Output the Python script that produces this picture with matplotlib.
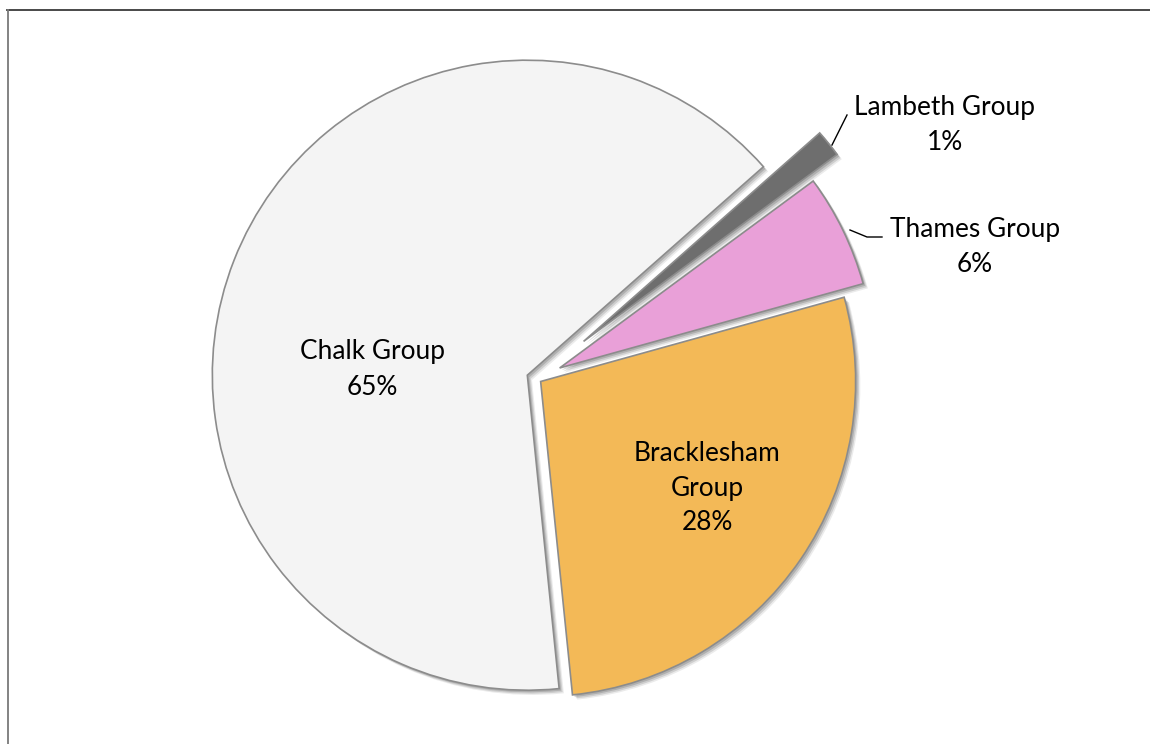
import matplotlib
matplotlib.use('Agg')
import matplotlib.pyplot as plt
from matplotlib import patheffects as pe
from matplotlib.lines import Line2D

# ---- data ----
groups = ['Bracklesham Group', 'Thames Group', 'Lambeth Group', 'Chalk Group']
shares = [27.7, 5.8, 1.4, 65.1]          # percent (labels show rounded values)
colors = ['#f3b957', '#e9a0d8', '#6e6e6e', '#f4f4f4']
explode = [0.014, 0.08, 0.19, 0.033]     # fraction of radius

W, H = 1150, 744
fig = plt.figure(figsize=(W / 100, H / 100), dpi=100)
ax = fig.add_axes([0, 0, 1, 1])

cx, cy = 537, H - 379
R = 315

shadow = [
    pe.SimplePatchShadow(offset=(3.4, -3.4), shadow_rgbFace='k', alpha=0.08),
    pe.SimplePatchShadow(offset=(2.5, -2.5), shadow_rgbFace='k', alpha=0.12),
    pe.SimplePatchShadow(offset=(1.5, -1.5), shadow_rgbFace='k', alpha=0.15),
    pe.Normal(),
]

wedges, _ = ax.pie(shares, explode=[e * R for e in explode], colors=colors,
                   startangle=-84.2, counterclock=True, center=(cx, cy), radius=R,
                   wedgeprops=dict(edgecolor='#8c8c8c', linewidth=1.2,
                                   path_effects=shadow))
ax.set_xlim(0, W)
ax.set_ylim(0, H)
ax.set_aspect('equal')
ax.axis('off')

FONT = 'Lato'
# size text so that "Chalk Group" spans ~145 px
probe = ax.text(0, 0, 'Chalk Group', fontsize=20, family=FONT)
fig.canvas.draw()
fs = 20 * 145 / probe.get_window_extent(fig.canvas.get_renderer()).width
probe.remove()


def put_lines(lines, x, baselines):
    for s, yb in zip(lines, baselines):
        ax.text(x, H - yb, s, ha='center', va='baseline', fontsize=fs,
                family=FONT, color='black')


pct = [f'{round(v)}%' for v in shares]
put_lines(['Bracklesham', 'Group', pct[0]], 707, [461, 496, 530])
put_lines([groups[1], pct[1]], 975, [237, 272])
put_lines([groups[2], pct[2]], 945, [115, 150])
put_lines([groups[3], pct[3]], 372, [359, 395])

# leader lines
ax.add_line(Line2D([832, 847], [H - 145, H - 115], color='black', lw=1.0))
ax.add_line(Line2D([850, 867, 882], [H - 230, H - 237, H - 237], color='black', lw=1.0))

# outer frame (cropped at right and bottom)
fig.add_artist(Line2D([7 / W, 1], [1 - 9.5 / H, 1 - 9.5 / H], transform=fig.transFigure,
                      color='#3a3a3a', lw=1.3))
fig.add_artist(Line2D([7.5 / W, 7.5 / W], [0, 1 - 9.5 / H], transform=fig.transFigure,
                      color='#7a7a7a', lw=1.3))

fig.savefig('out.png', dpi=100)
